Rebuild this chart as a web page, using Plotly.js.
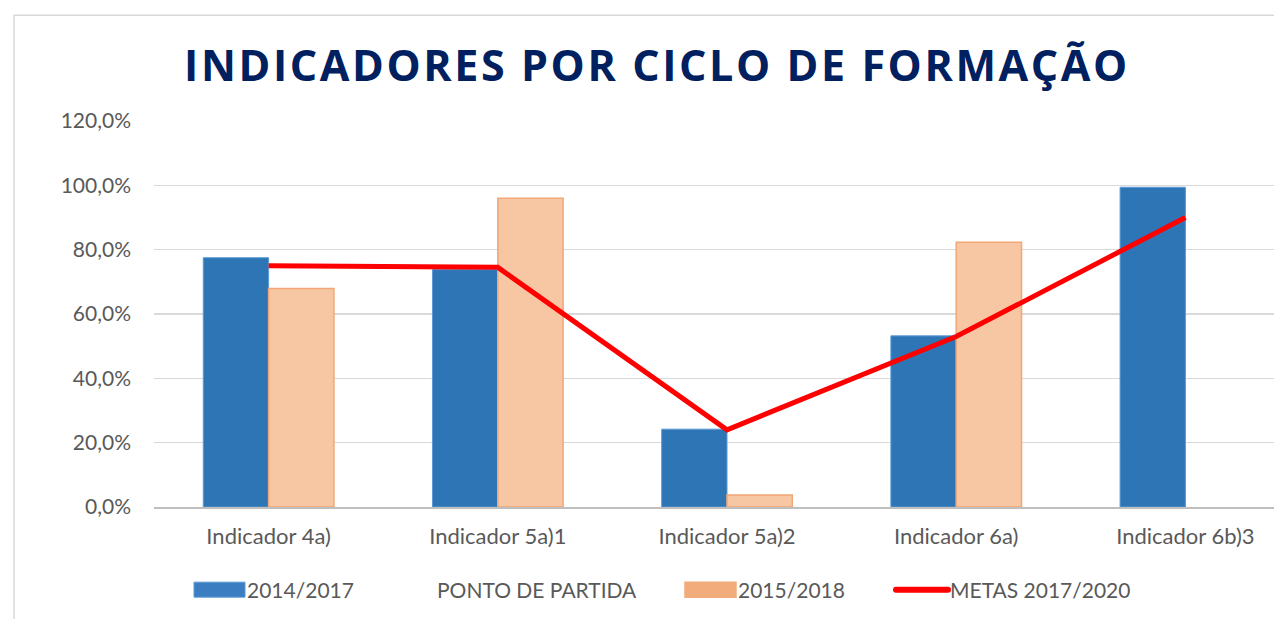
<!DOCTYPE html>
<html>
<head>
<meta charset="utf-8">
<script src="https://cdn.plot.ly/plotly-3.0.1.min.js"></script>
<style>
  html, body { margin: 0; padding: 0; background: #fff; overflow: hidden; }
  #chart { width: 1300px; height: 619px; }
  .gtitle { letter-spacing: 2.6px; }
  .legend .legendpoints path, .legend3 .legendpoints path { d: path("M-19.5,7.5H31.5V-7.5H-19.5Z"); }
  .legend .legendpoints path { fill: #3A7DC1 !important; }
  .legend3 .legendpoints path { fill: #F2AC7C !important; stroke: #F2AC7C !important; }
  .legend4 .legendlines path { d: path("M13,0h52"); stroke-linecap: round; stroke-width: 6px !important; }
</style>
</head>
<body>
<div id="chart"></div>
<script>
// ---- data ----
const categories = ["Indicador 4a)", "Indicador 5a)1", "Indicador 5a)2", "Indicador 6a)", "Indicador 6b)3"];
const series2014 = [77.5, 73.8, 24.2, 53.2, 99.4];      // 2014/2017
const series2015 = [67.9, 96.0, 3.7, 82.3, null];       // 2015/2018
const metas = [75.0, 74.5, 24.0, 53.0, 90.0];           // METAS 2017/2020
const yTicks = [0, 20, 40, 60, 80, 100, 120];
const yTickLabels = ["0,0%", "20,0%", "40,0%", "60,0%", "80,0%", "100,0%", "120,0%"];
const names = ["2014/2017", "PONTO DE PARTIDA", "2015/2018", "METAS 2017/2020"];

const FONT = "'Open Sans', 'Noto Sans', sans-serif";
const TICKFONT = "Lato, 'Open Sans', sans-serif";
const W = 1300;

const traces = [
  {
    type: "bar", name: names[0], x: categories, y: series2014,
    marker: { color: "#2E75B6", line: { color: "#5B9BD5", width: 1 } },
    legend: "legend"
  },
  {
    type: "scatter", mode: "lines", name: names[1], x: categories, y: categories.map(() => null),
    line: { color: "rgba(0,0,0,0)", width: 1 },
    legend: "legend2", hoverinfo: "skip"
  },
  {
    type: "bar", name: names[2], x: categories, y: series2015,
    marker: { color: "#F7C6A3", line: { color: "#F1A777", width: 1.5 } },
    legend: "legend3"
  },
  {
    type: "scatter", mode: "lines", name: names[3], x: categories, y: metas,
    line: { color: "#FF0000", width: 5 },
    legend: "legend4"
  }
];

const legBase = {
  orientation: "h", xref: "container", yref: "container",
  yanchor: "middle", xanchor: "left", y: 1 - 590 / 619,
  font: { family: TICKFONT, size: 21, color: "#595959" },
  bgcolor: "rgba(0,0,0,0)", itemwidth: 57
};

const layout = {
  width: W, height: 619,
  margin: { l: 154, r: 0, t: 121, b: 111.5, pad: 0 },
  paper_bgcolor: "#ffffff", plot_bgcolor: "#ffffff",
  title: {
    text: "INDICADORES POR CICLO DE FORMAÇÃO",
    font: { family: FONT, size: 43, color: "#002060", weight: 700 },
    xref: "container", x: 657 / W, xanchor: "center",
    yref: "container", y: 1 - 65.5 / 619, yanchor: "middle"
  },
  barmode: "group", bargap: 0.43, bargroupgap: 0,
  xaxis: {
    type: "category", range: [-0.5, 4.5],
    showline: true, linecolor: "#BFBFBF", linewidth: 2,
    showgrid: false, ticks: "", ticklabelstandoff: 9,
    tickfont: { family: TICKFONT, size: 22, color: "#595959" }
  },
  yaxis: {
    range: [0, 120], tickmode: "array", tickvals: yTicks, ticktext: yTickLabels,
    showgrid: true, gridcolor: "#D9D9D9", gridwidth: 1.5,
    zeroline: false, showline: false, ticks: "", ticklabelstandoff: 22,
    tickfont: { family: TICKFONT, size: 21, color: "#595959" }
  },
  legend:  Object.assign({}, legBase, { x: 180 / W }),
  legend2: Object.assign({}, legBase, { x: 370 / W }),
  legend3: Object.assign({}, legBase, { x: 671 / W }),
  legend4: Object.assign({}, legBase, { x: 883 / W }),
  shapes: [
    { type: "rect", xref: "paper", yref: "paper",
      x0: (14 - 154) / 1146, x1: 1.2, y0: (507.5 - 640) / 386.5, y1: (507.5 - 15) / 386.5,
      line: { color: "#D9D9D9", width: 1.5 }, fillcolor: "rgba(0,0,0,0)", layer: "below" }
  ],
  showlegend: true
};

Plotly.newPlot("chart", traces, layout, { displayModeBar: false, staticPlot: true });
</script>
</body>
</html>
